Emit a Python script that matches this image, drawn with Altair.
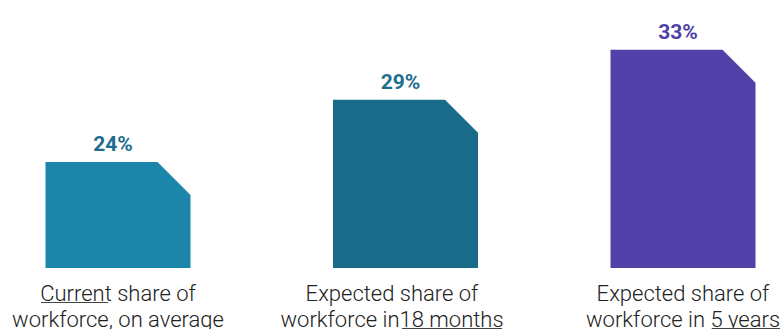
import altair as alt
import pandas as pd

categories = [
    "Current share of\nworkforce, on average",
    "Expected share of\nworkforce in18 months",
    "Expected share of\nworkforce in 5 years",
]
values = [24, 29, 33]
value_labels = ["24%", "29%", "33%"]
bar_colors = ["#1b85aa", "#186c8a", "#5241a8"]
label_colors = ["#1e6e8e", "#1e6e8e", "#4f3fa6"]

Y_MIN, Y_MAX = 15.5, 37.0
CHAMFER = 33
BAND = 145

df = pd.DataFrame(
    {
        "idx": list(range(len(categories))),
        "cat": categories,
        "value": values,
        "label": value_labels,
        "bar_color": bar_colors,
        "label_color": label_colors,
    }
)

x_scale = alt.Scale(paddingInner=0.4867, paddingOuter=0.1274, align=0.632)
x_enc = alt.X(
    "cat:N",
    sort=categories,
    scale=x_scale,
    axis=alt.Axis(
        title=None,
        labelAngle=0,
        domain=False,
        ticks=False,
        labelExpr="split(datum.label, '\\n')",
        labelFontSize=22,
        labelFont="Roboto Light, Roboto",
        labelFontWeight=300,
        labelColor="#222222",
        labelPadding=15,
        labelLineHeight=26,
        labelLimit=0,
        labelOverlap=False,
        labelOffset={
            "condition": {"test": "datum.index > 0.4 && datum.index < 0.6", "value": -8.5},
            "value": 0,
        },
    ),
)
x_plain = alt.X("cat:N", sort=categories)
y_enc = alt.Y(
    "value:Q",
    scale=alt.Scale(domain=[Y_MIN, Y_MAX], zero=False, nice=False),
    axis=None,
)


def shift(extra=0):
    return alt.expr(f"datum.idx == 1 ? {5 + extra} : {extra}")


base = alt.Chart(df)

bars = base.mark_bar(xOffset=shift()).encode(
    x=x_enc,
    y=y_enc,
    y2=alt.datum(Y_MIN),
    color=alt.Color("bar_color:N", scale=None),
)

corner = base.mark_point(
    shape="M -1 -1 L -1 -1.15 L 1.15 -1.15 L 1.15 1 L 1 1 Z",
    filled=True,
    color="white",
    opacity=1,
    strokeWidth=0,
    size=CHAMFER * CHAMFER,
    xOffset=shift(BAND / 2 - CHAMFER / 2),
    yOffset=CHAMFER / 2,
).encode(x=x_plain, y=alt.Y("value:Q"))

texts = base.mark_text(
    baseline="alphabetic",
    dy=-11,
    xOffset=shift(-5),
    fontSize=21,
    font="Roboto",
    fontWeight="bold",
).encode(
    x=x_plain,
    y=alt.Y("value:Q"),
    text="label:N",
    color=alt.Color("label_color:N", scale=None),
)

# underlines of the emphasised words in the category labels
underline_specs = [(0, -77, -10, 302.5), (1, 1.5, 101.5, 328.5), (2, 28.7, 97, 328.5)]
underlines = [
    base.transform_filter(alt.datum.idx == i)
    .mark_rule(color="#444444", strokeWidth=1.2, xOffset=a, x2Offset=b)
    .encode(x=x_plain, x2=alt.X2("cat:N"), y=alt.value(yy))
    for i, a, b, yy in underline_specs
]

chart = (
    alt.layer(bars, corner, texts, *underlines)
    .properties(
        width=782,
        height=268,
        autosize=alt.AutoSizeParams(type="none"),
        padding={"left": 0, "right": 0, "top": 0, "bottom": 61},
        background="white",
    )
    .configure_view(stroke=None)
)

chart.save("out.html", embed_options={"renderer": "svg", "actions": False})
